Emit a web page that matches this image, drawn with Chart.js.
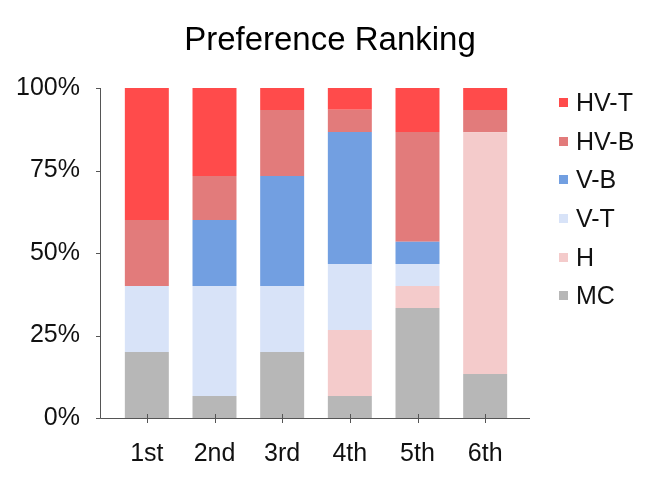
<!DOCTYPE html>
<html>
<head>
<meta charset="utf-8">
<script src="https://cdn.jsdelivr.net/npm/chart.js@4"></script>
<style>
  html, body { margin: 0; padding: 0; background: #fff; }
  #wrap { position: relative; width: 664px; height: 488px; }
  #title { position: absolute; left: 0; top: 22px; width: 660px; margin: 0; text-align: center;
           font-family: 'Liberation Sans', Arial, sans-serif; font-size: 33px; line-height: 33px;
           font-weight: normal; color: #000; }
  #legend { position: absolute; left: 559px; top: 83px; margin: 0; padding: 0; list-style: none;
            font-family: 'Liberation Sans', Arial, sans-serif; font-size: 25px; color: #111; }
  #legend li { display: flex; align-items: center; height: 38.7px; line-height: 38.7px; white-space: nowrap; }
  #legend span.box { display: inline-block; width: 9px; height: 9px; margin-right: 8px; }
</style>
</head>
<body>
<div id="wrap">
  <canvas id="rankChart"></canvas>
  <h1 id="title">Preference Ranking</h1>
  <ul id="legend"></ul>
</div>
<script>
// share of each choice at each rank, in percent (stacked bottom to top: MC, H, V-T, V-B, HV-B, HV-T)
const ranks = ['1st', '2nd', '3rd', '4th', '5th', '6th'];
const mcVals = [20, 6.7, 20, 6.7, 33.3, 13.3];
const hVals = [0, 0, 0, 20, 6.7, 73.3];
const vtVals = [20, 33.3, 20, 20, 6.7, 0];
const vbVals = [0, 20, 33.3, 40, 6.7, 0];
const hvbVals = [20, 13.3, 20, 6.7, 33.3, 6.7];
const hvtVals = [40, 26.7, 6.7, 6.6, 13.3, 6.7];
const yTicks = [0, 25, 50, 75, 100];

const font = 'Liberation Sans, Arial, sans-serif';

// axis lines sit a bit outside the bars, like the original
const axisLines = {
    id: 'axisLines',
    afterDraw(chart) {
        const { ctx, chartArea: a, scales } = chart;
        const x0 = a.left - 13;
        const x1 = a.right + 11;
        ctx.save();
        ctx.strokeStyle = '#555';
        ctx.lineWidth = 1;
        ctx.beginPath();
        ctx.moveTo(x0 + 0.5, a.top);
        ctx.lineTo(x0 + 0.5, a.bottom + 0.5);
        ctx.lineTo(x1, a.bottom + 0.5);
        yTicks.forEach(v => {
            const y = Math.round(scales.y.getPixelForValue(v)) + 0.5;
            ctx.moveTo(x0 - 4, y);
            ctx.lineTo(x0 + 0.5, y);
        });
        ranks.forEach((r, i) => {
            const x = Math.round(scales.x.getPixelForValue(i)) + 0.5;
            ctx.moveTo(x, a.bottom - 4);
            ctx.lineTo(x, a.bottom + 5);
        });
        ctx.stroke();
        ctx.restore();
    }
};

const chart = new Chart(document.getElementById('rankChart'), {
    type: 'bar',
    data: {
        labels: ranks,
        datasets: [
            { label: 'MC', data: mcVals, backgroundColor: '#b7b7b7' },
            { label: 'H', data: hVals, backgroundColor: '#f4cbcb' },
            { label: 'V-T', data: vtVals, backgroundColor: '#d8e3f8' },
            { label: 'V-B', data: vbVals, backgroundColor: '#729fe1' },
            { label: 'HV-B', data: hvbVals, backgroundColor: '#e27b7b' },
            { label: 'HV-T', data: hvtVals, backgroundColor: '#ff4b4b' }
        ]
    },
    options: {
        responsive: true,
        maintainAspectRatio: false,
        animation: false,
        datasets: { bar: { barPercentage: 0.65, categoryPercentage: 1 } },
        layout: { padding: { left: 14, right: 145, top: 88, bottom: 0 } },
        plugins: {
            title: { display: false },
            legend: { display: false },
            tooltip: { enabled: false }
        },
        scales: {
            x: {
                stacked: true,
                afterFit: axis => { axis.height = 70; },
                grid: { display: false, drawTicks: false },
                border: { display: false },
                ticks: { color: '#111', font: { family: font, size: 25 }, padding: 21 }
            },
            y: {
                stacked: true,
                min: 0,
                max: 100,
                afterBuildTicks: axis => { axis.ticks = yTicks.map(v => ({ value: v })); },
                afterFit: axis => { axis.width = 99; },
                grid: { display: false, drawTicks: false },
                border: { display: false },
                ticks: {
                    color: '#111',
                    font: { family: font, size: 25 },
                    padding: 33,
                    callback: v => v + '%'
                }
            }
        }
    },
    plugins: [axisLines]
});

// legend, top entry = top of the stack
const legend = document.getElementById('legend');
chart.data.datasets.slice().reverse().forEach(ds => {
    const li = document.createElement('li');
    const box = document.createElement('span');
    box.className = 'box';
    box.style.background = ds.backgroundColor;
    li.appendChild(box);
    li.appendChild(document.createTextNode(ds.label));
    legend.appendChild(li);
});
</script>
</body>
</html>
